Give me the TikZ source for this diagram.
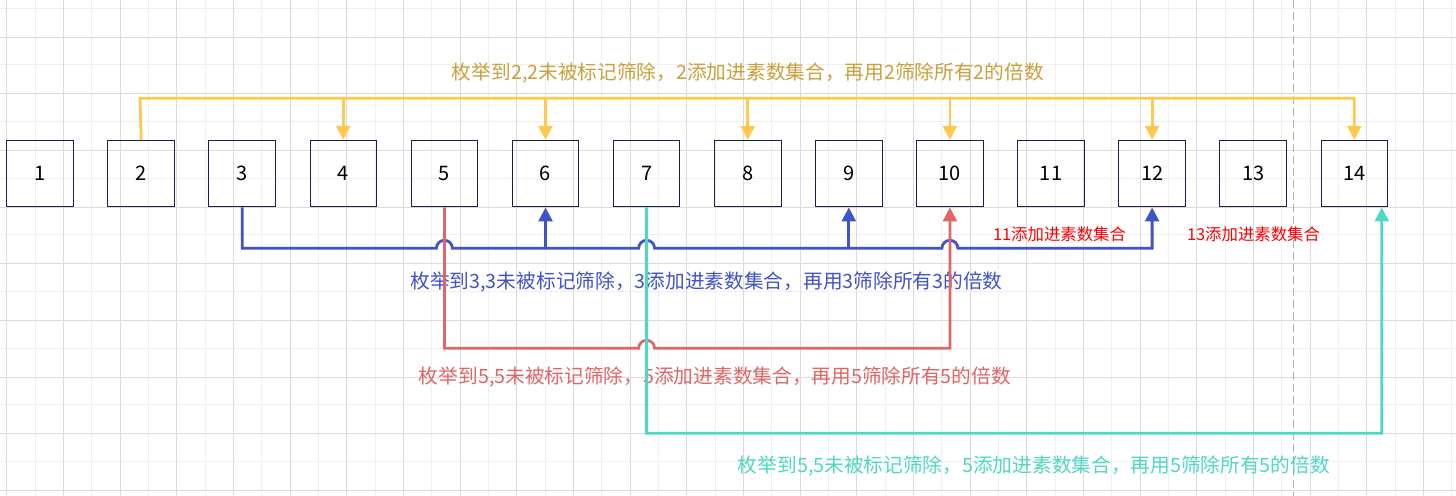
\documentclass[tikz,border=0pt]{standalone}
\usepackage{fontspec}
\setmainfont{Noto Sans CJK SC}
\usetikzlibrary{arrows.meta,calc}
\definecolor{gridmaj}{HTML}{DADADA}
\definecolor{gridmin}{HTML}{EFEFEF}
\definecolor{pagebrk}{HTML}{B4B4B4}
\definecolor{ylw}{HTML}{FFC94F}
\definecolor{ylwtxt}{HTML}{C9A03C}
\definecolor{blu}{HTML}{4153C8}
\definecolor{rd}{HTML}{E06666}
\definecolor{tealc}{HTML}{4FD8C4}
\definecolor{boxc}{HTML}{1B1F4B}
\begin{document}
\begin{tikzpicture}[x=0.5pt,y=-0.5pt,
  numbox/.style={draw=boxc,line width=0.5pt,minimum width=33.3pt,minimum height=33.3pt,inner sep=0pt,font=\fontsize{10}{11}\selectfont},
  conn/.style={line width=1.4pt},
  tip/.style={-{Triangle[length=7pt,width=7pt]}},
  lbl/.style={inner sep=0pt,font=\fontsize{9.85}{12}\selectfont},
  smalllbl/.style={inner sep=0pt,font=\fontsize{8.2}{10}\selectfont,text=red},
]
\useasboundingbox (0,0) rectangle (1456,496);
\fill[white] (0,0) rectangle (1456,496);
% grid
\foreach \k in {0,...,25} \draw[gridmin,line width=0.5pt] ({35+56.667*\k},0) -- ++(0,496);
\foreach \k in {0,...,8} \draw[gridmin,line width=0.5pt] (0,{8.3+56.667*\k}) -- ++(1456,0);
\foreach \k in {0,...,25} \draw[gridmaj,line width=0.5pt] ({6.7+56.667*\k},0) -- ++(0,496);
\foreach \k in {0,...,8} \draw[gridmaj,line width=0.5pt] (0,{37.3+56.667*\k}) -- ++(1456,0);
% page break
\draw[pagebrk,line width=0.5pt,dash pattern=on 4pt off 2pt] (1293.3,0) -- (1293.3,496);
% boxes
\foreach \i in {1,...,14} \node[numbox] (b\i) at ({40+101.1*(\i-1)},173.7) {\i};
% labels
\node[lbl,text=ylwtxt] (ylab) at (748,73) {枚举到2,2未被标记筛除，2添加进素数集合，再用2筛除所有2的倍数};
\node[lbl,text=blu] (blab) at (706.5,282) {枚举到3,3未被标记筛除，3添加进素数集合，再用3筛除所有3的倍数};
\node[lbl,text=rd] (rlab) at (715,377.5) {枚举到5,5未被标记筛除，5添加进素数集合，再用5筛除所有5的倍数};
\node[lbl,text=tealc] (tlab) at (1034,466) {枚举到5,5未被标记筛除，5添加进素数集合，再用5筛除所有5的倍数};
\node[smalllbl] (l11) at (1059.5,234) {11添加进素数集合};
\node[smalllbl] (l13) at (1253.5,234) {13添加进素数集合};
% coordinates
\coordinate (ytop) at (140.1,98.3);
\coordinate (bl) at (242.2,248.3);
\coordinate (rl) at (444.4,348.3);
\coordinate (tb) at (646.6,433.3);
\coordinate (jb5) at (b5.south |- bl);
\coordinate (jb7) at (b7.south |- bl);
\coordinate (jb10) at (b10.south |- bl);
\coordinate (jr7) at (b7.south |- rl);
\coordinate (t14) at ($(b14.south east)+(-6.3,0)$);
% yellow
\draw[conn,color=ylw,tip] (b2.north) -- (ytop) -- (b14.north |- ytop) -- (b14.north);
\foreach \j in {4,6,8,10,12} \draw[conn,color=ylw,tip] (b\j.north |- ytop) -- (b\j.north);
% blue
\draw[conn,color=blu,tip] (b3.south) -- (bl)
  -- ($(jb5)+(-8,0)$) arc[start angle=180,end angle=0,radius=4pt]
  -- ($(jb7)+(-8,0)$) arc[start angle=180,end angle=0,radius=4pt]
  -- ($(jb10)+(-8,0)$) arc[start angle=180,end angle=0,radius=4pt]
  -- (b12.south |- bl) -- (b12.south);
\draw[conn,color=blu,tip] (b6.south |- bl) -- (b6.south);
\draw[conn,color=blu,tip] (b9.south |- bl) -- (b9.south);
% red
\draw[conn,color=rd,tip] (b5.south) -- (rl)
  -- ($(jr7)+(-8,0)$) arc[start angle=180,end angle=0,radius=4pt]
  -- (b10.south |- rl) -- (b10.south);
% teal
\draw[conn,color=tealc,tip] (b7.south) -- (tb) -- (t14 |- tb) -- (t14);
\end{tikzpicture}
\end{document}
